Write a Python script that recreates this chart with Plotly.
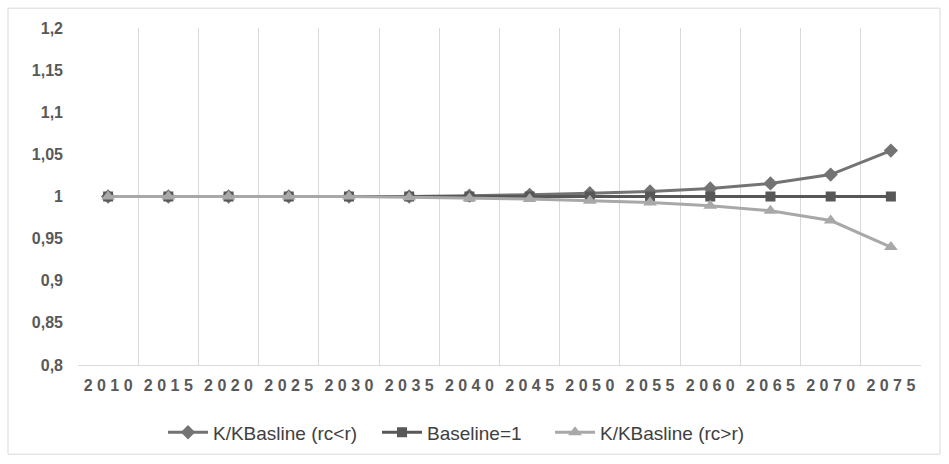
import plotly.graph_objects as go

years = [2010, 2015, 2020, 2025, 2030, 2035, 2040, 2045, 2050, 2055, 2060, 2065, 2070, 2075]
k_rc_lt_r = [1.0, 1.0, 1.0, 1.0, 1.0, 1.0, 1.001, 1.002, 1.004, 1.006, 1.0095, 1.0155, 1.026, 1.0545]
baseline = [1.0] * 14
k_rc_gt_r = [1.0, 1.0, 1.0, 1.0, 1.0, 0.999, 0.998, 0.997, 0.995, 0.993, 0.989, 0.983, 0.9715, 0.94]
y_ticks = [0.8, 0.85, 0.9, 0.95, 1.0, 1.05, 1.1, 1.15, 1.2]
y_labels = ["0,8", "0,85", "0,9", "0,95", "1", "1,05", "1,1", "1,15", "1,2"]

cats = [str(y) for y in years]
# spaced-out digits for the category labels
x_labels = [" ".join(c) for c in cats]

L, R, T, B = 78, 28, 28, 96
W, H = 949, 464
pw, ph = W - L - R, H - T - B


def px_x(x):
    return (x - L) / pw


fig = go.Figure()
fig.add_trace(go.Scatter(
    x=cats, y=k_rc_lt_r, name="K/KBasline (rc<r)", mode="lines+markers",
    line=dict(color="#737373", width=3),
    marker=dict(symbol="diamond", size=11, color="#737373"),
    legend="legend",
))
fig.add_trace(go.Scatter(
    x=cats, y=baseline, name="Baseline=1", mode="lines+markers",
    line=dict(color="#575757", width=3),
    marker=dict(symbol="square", size=10, color="#575757"),
    legend="legend2",
))
fig.add_trace(go.Scatter(
    x=cats, y=k_rc_gt_r, name="K/KBasline (rc>r)", mode="lines+markers",
    line=dict(color="#a8a8a8", width=3),
    marker=dict(symbol="triangle-up", size=12, color="#a8a8a8"),
    legend="legend3",
))

leg_y = -(436 - (H - B)) / ph
leg_common = dict(orientation="h", yanchor="middle", y=leg_y, xanchor="left",
                  font=dict(size=19, color="#404040"), itemwidth=40,
                  bgcolor="rgba(0,0,0,0)")

fig.update_layout(
    width=W, height=H,
    margin=dict(l=L, r=R, t=T, b=B),
    paper_bgcolor="white", plot_bgcolor="white",
    font=dict(family="Liberation Sans", size=13, color="#595959"),
    showlegend=True,
    legend=dict(x=px_x(163), **leg_common),
    legend2=dict(x=px_x(377), **leg_common),
    legend3=dict(x=px_x(550), **leg_common),
    xaxis=dict(
        type="category", tickson="boundaries",
        tickmode="array", tickvals=cats, ticktext=x_labels,
        showgrid=True, gridcolor="#d9d9d9", gridwidth=1,
        showline=True, linecolor="#d9d9d9", linewidth=1,
        ticks="", tickfont=dict(size=16, color="#595959", weight="bold"),
        ticklabelstandoff=6,
        range=[-0.5, 13.5],
    ),
    yaxis=dict(
        range=[0.8, 1.2], tickvals=y_ticks, ticktext=y_labels,
        showgrid=False, zeroline=False, showline=False, ticks="",
        ticklabelstandoff=14, tickfont=dict(size=16, color="#595959", weight="bold"),
    ),
    shapes=[dict(
        type="rect", xref="paper", yref="paper",
        x0=px_x(8), x1=px_x(940),
        y0=(H - B - 458) / ph, y1=(H - B - 8) / ph,
        line=dict(color="#d9d9d9", width=1), fillcolor="rgba(0,0,0,0)", layer="below",
    )],
)

fig.write_html("out.html")
